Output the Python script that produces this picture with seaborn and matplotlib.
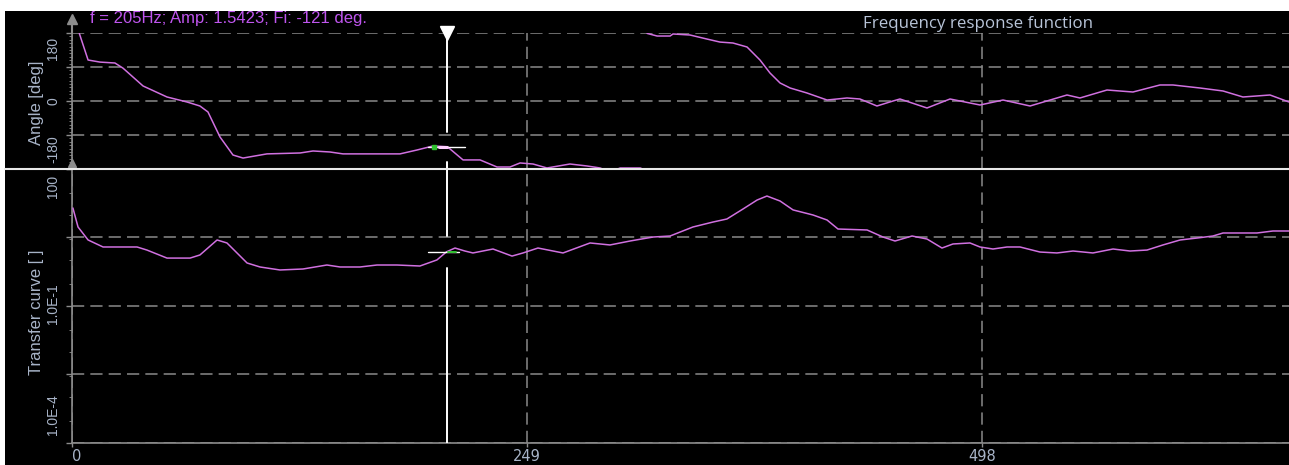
import numpy as np
import pandas as pd
import matplotlib
matplotlib.use("Agg")
import matplotlib.pyplot as plt
from matplotlib.lines import Line2D
from matplotlib.patches import Rectangle
from matplotlib.ticker import FixedLocator, NullFormatter
import seaborn as sns

# ---- measured frequency response (Hz) ----
phase_freq = [4, 8.8, 15.3, 23.5, 27.9, 38.9, 52, 62.9, 70, 74.4, 81, 88.1, 93.6,
              106.7, 124.8, 131.9, 141.2, 148.3, 157.6, 179.5, 188.8, 197.6, 205,
              206.9, 214, 223.3, 232.6, 239.7, 245.2, 252.3, 259.9, 272.5, 281.8,
              289, 294.4, 300, 311, 313.6,
              314.7, 320.2, 327.3, 328.9, 338.2, 347.5, 354.6, 361.7, 369.4, 376.5,
              382, 387.5, 393, 402.2, 413.2, 424.1, 431.2, 440.5, 449.3, 453.1,
              467.9, 480.5, 496.9, 509.5, 524.3, 544.5, 551.6, 566.4, 580.6, 595.4,
              602.5, 617.3, 629.9, 640.8, 655.6, 666]
phase_deg = [179, 108.5, 103, 100.6, 87, 39.7, 10.6, -2.6, -13.2, -29, -95.3, -143, -151,
             -140, -137.6, -132.3, -135, -140, -140, -140, -129.7, -119, -121,
             -127, -156, -156, -174.7, -174.7, -164, -166.8, -177.3, -166.8, -172,
             -177.3, -188, -177.3, -177.3, -183,
             179, 172, 172, 177.4, 174.7, 164, 156, 153.5, 143, 108.5,
             74, 47.6, 34.4, 21.2, 2.6, 8, 5.3, -13.2, 0, 5.3,
             -18.5, 5.3, -10.6, 2.6, -13.2, 15.9, 8, 29.1, 23.8, 42.4,
             42.4, 34.4, 26.5, 10.6, 15.9, -2.6]

amp_freq = [0.5, 3.3, 8.8, 17, 26.3, 35.6, 41, 52, 64.6, 70, 79.4, 84.8, 95.8, 102.9,
            113.8, 126.4, 139.5, 146.7, 157.6, 166.9, 177.9, 190.4, 199.7, 205,
            209.6, 215, 219.4, 230.4, 240.8, 246.8, 255, 268.7, 283.5, 294.4, 305.4,
            318, 327.3, 339.8, 350.8, 358.4, 367.2, 374.9, 380.3, 387.5, 394.6,
            405.5, 413.2, 419.2, 435.1, 443.8, 450.4, 459.7, 467.9, 476.1, 482.1,
            491.4, 496.9, 504, 511.7, 518.8, 529.7, 539, 547.8, 558.7, 569.7, 579,
            588.3, 597, 606.4, 615.7, 624.4, 629.9, 648.5, 657.2, 666]
amp_val = [14.0, 5.37, 2.79, 1.96, 1.96, 1.96, 1.68, 1.12, 1.12, 1.31, 2.79, 2.40, 0.875,
           0.715, 0.615, 0.646, 0.79, 0.715, 0.715, 0.79, 0.79, 0.751, 1.02, 1.5423,
           1.86, 1.60, 1.45, 1.77, 1.24, 1.45, 1.86, 1.45, 2.40, 2.17, 2.65,
           3.24, 3.41, 5.37, 6.9, 8.04, 13.3, 20.9, 25.6, 19.9, 12.7,
           9.84, 7.64, 4.85, 4.62, 3.24, 2.65, 3.41, 2.93, 1.86, 2.28,
           2.40, 1.96, 1.77, 1.96, 1.96, 1.52, 1.45, 1.60, 1.45, 1.77, 1.60,
           1.68, 2.17, 2.79, 3.08, 3.41, 3.97, 3.97, 4.39, 4.39]

# cursor readout
cursor_freq = 205
cursor_amp = 1.5423
cursor_phase = -121

x_tick_values = [0, 249, 498]
x_tick_text = ["0", "249", "498"]
phase_label_values = [180, 0, -180]
phase_label_text = ["180", "0", "-180"]
amp_label_values = [100, 1e-1, 1e-4]
amp_label_text = ["100", "1.0E-1", "1.0E-4"]

title_text = "Frequency response function"
phase_axis_title = "Angle [deg]"
amp_axis_title = "Transfer curve [ ]"

# ---- styling ----
CURVE = "#d070e0"
GRID = "#8a8a8a"
AXIS = "#8c8c8c"
TICK_TXT = "#a8b4c8"
HEADER = "#bf55ee"
TITLE = "#b8c4d8"

sns.set_theme(style="dark", rc={
    "axes.facecolor": "black",
    "figure.facecolor": "white",
    "axes.edgecolor": AXIS,
    "xtick.color": AXIS,
    "ytick.color": AXIS,
})
plt.rcParams["font.family"] = ["Liberation Sans", "DejaVu Sans"]

W, H = 1289, 465
fig = plt.figure(figsize=(W / 100, H / 100), dpi=100)
fig.add_artist(Rectangle((5 / W, 0), 1 - 5 / W, 1 - 11 / H, transform=fig.transFigure,
                         facecolor="black", edgecolor="none", zorder=-10))


def px_axes(x0, y0, x1, y1):
    return fig.add_axes([x0 / W, 1 - y1 / H, (x1 - x0) / W, (y1 - y0) / H])


ax_ph = px_axes(72, 33, 1289, 169)
ax_amp = px_axes(72, 169, 1289, 443)

grid_kw = dict(color=GRID, linestyle=(0, (8, 4)), linewidth=1.1)

# ---- phase panel ----
ph = pd.DataFrame({"freq": phase_freq, "deg": phase_deg})
ph["segment"] = (ph["deg"].diff().abs() > 180).cumsum()
sns.lineplot(data=ph, x="freq", y="deg", units="segment", estimator=None,
             color=CURVE, linewidth=1.1, ax=ax_ph, zorder=3)
ax_ph.set_xlim(0, 666)
ax_ph.set_ylim(-180, 180)
ax_ph.set_yticks([-180, -90, 0, 90, 180])
ax_ph.yaxis.set_major_formatter(NullFormatter())
ax_ph.yaxis.set_minor_locator(FixedLocator(np.arange(-180, 181, 9)))
ax_ph.set_xticks(x_tick_values)
ax_ph.xaxis.set_major_formatter(NullFormatter())
ax_ph.tick_params(axis="x", length=0)
ax_ph.grid(True, **grid_kw)

# ---- transfer curve panel ----
ax_amp.set_yscale("log")
amp = pd.DataFrame({"freq": amp_freq, "amp": amp_val})
sns.lineplot(data=amp, x="freq", y="amp", color=CURVE, linewidth=1.1, ax=ax_amp, zorder=3)
ax_amp.set_xlim(0, 666)
ax_amp.set_ylim(1e-4, 1e2)
ax_amp.yaxis.set_major_locator(FixedLocator([1e-4, 10 ** -2.5, 1e-1, 10 ** 0.5, 1e2]))
ax_amp.yaxis.set_major_formatter(NullFormatter())
minor_amp = [m * 10.0 ** k for k in range(-4, 2) for m in (1, 3)]
ax_amp.yaxis.set_minor_locator(FixedLocator(minor_amp))
ax_amp.yaxis.set_minor_formatter(NullFormatter())
ax_amp.set_xticks(x_tick_values, labels=x_tick_text)
ax_amp.xaxis.set_minor_locator(FixedLocator(np.arange(0, 667, 24.9)))
ax_amp.grid(True, which="major", **grid_kw)
ax_amp.tick_params(axis="x", which="major", length=3, width=1, pad=1.5,
                   labelcolor=TICK_TXT, labelsize=10.5)
ax_amp.tick_params(axis="x", which="minor", length=2, width=0.8)
for lab in ax_amp.get_xticklabels():
    lab.set_fontfamily("DejaVu Sans")
ax_amp.get_xticklabels()[0].set_horizontalalignment("left")

for ax in (ax_ph, ax_amp):
    ax.set_xlabel("")
    ax.set_ylabel("")
    ax.set_facecolor("none")
    for side in ("top", "right"):
        ax.spines[side].set_visible(False)
    ax.spines["left"].set_color(AXIS)
    ax.spines["left"].set_linewidth(1.2)
    ax.tick_params(axis="y", which="major", length=4, width=1, left=True)
    ax.tick_params(axis="y", which="minor", length=2.5, width=0.6, left=True)
    ax.tick_params(axis="x", bottom=(ax is ax_amp))
ax_ph.spines["bottom"].set_visible(False)
ax_amp.spines["bottom"].set_color(AXIS)
ax_amp.spines["bottom"].set_linewidth(1.2)


# rotated value labels along the left axes, end labels kept inside the range
def side_labels(ax, values, texts, offsets):
    aligns = ["top", "center", "bottom"]
    for val, txt, va, dy in zip(values, texts, aligns, offsets):
        ax.annotate(txt, xy=(0, val), xycoords=("axes fraction", "data"),
                    xytext=(-12, dy), textcoords="offset pixels", rotation=90,
                    ha="right", va=va, color=TICK_TXT, fontsize=10)


side_labels(ax_ph, phase_label_values, phase_label_text, [-4, 0, 6])
side_labels(ax_amp, amp_label_values, amp_label_text, [-6, 2, 8])

fig.text(37 / W, 1 - 103 / H, phase_axis_title, rotation=90, ha="center", va="center",
         color=TICK_TXT, fontsize=12)
fig.text(37 / W, 1 - 312 / H, amp_axis_title, rotation=90, ha="center", va="center",
         color=TICK_TXT, fontsize=12)

# ---- cursor ----
cur_kw = dict(color="white", linewidth=1.4, zorder=5)
ax_ph.plot([cursor_freq, cursor_freq], [180, cursor_phase + 40], **cur_kw)
ax_ph.plot([cursor_freq, cursor_freq], [cursor_phase - 40, -180], **cur_kw)
ax_ph.plot([cursor_freq], [180], marker="v", markersize=10, color="white",
           clip_on=False, zorder=6)
ax_ph.plot([cursor_freq - 10.2, cursor_freq + 10], [cursor_phase, cursor_phase],
           color="white", linewidth=1.0, zorder=5)
ax_ph.plot([cursor_freq - 4, cursor_freq], [cursor_phase, cursor_phase],
           color="#ffd0ff", linewidth=2.2, zorder=6)
ax_ph.plot([cursor_freq - 7], [cursor_phase], marker="s", markersize=2.5,
           color="#30c030", zorder=6)

gap = 10 ** 0.35
ax_amp.plot([cursor_freq, cursor_freq], [1e2, cursor_amp * gap], **cur_kw)
ax_amp.plot([cursor_freq, cursor_freq], [cursor_amp / gap, 1e-4], **cur_kw)
ax_amp.plot([cursor_freq - 10.2, cursor_freq + 7], [cursor_amp, cursor_amp],
            color="white", linewidth=1.0, zorder=5)
ax_amp.plot([cursor_freq + 1, cursor_freq + 5], [cursor_amp, cursor_amp],
            color="#30c030", linewidth=1.4, zorder=6)

# separator between panels and axis arrow heads
fig.add_artist(Line2D([5 / W, 1], [1 - 169 / H, 1 - 169 / H], color="#e8e8e8",
                      linewidth=1.5, transform=fig.transFigure, zorder=8))
fig.add_artist(Line2D([72 / W, 72 / W], [1 - 33 / H, 1 - 20 / H], color=AXIS,
                      linewidth=1.5, transform=fig.transFigure))
fig.add_artist(Line2D([72 / W], [1 - 19 / H], marker="^", markersize=7, color=AXIS,
                      linestyle="none", transform=fig.transFigure))
fig.add_artist(Line2D([72 / W], [1 - 163 / H], marker="^", markersize=6, color=AXIS,
                      linestyle="none", transform=fig.transFigure))

# ---- header texts ----
readout = f"f = {cursor_freq}Hz; Amp: {cursor_amp}; Fi: {cursor_phase} deg."
fig.text(90 / W, 1 - 18 / H, readout, ha="left", va="center", color=HEADER, fontsize=12)
fig.text(863 / W, 1 - 24 / H, title_text, ha="left", va="center", color=TITLE,
         fontsize=12.2, fontfamily="Open Sans")

fig.savefig("out.png", dpi=100, facecolor="white")
